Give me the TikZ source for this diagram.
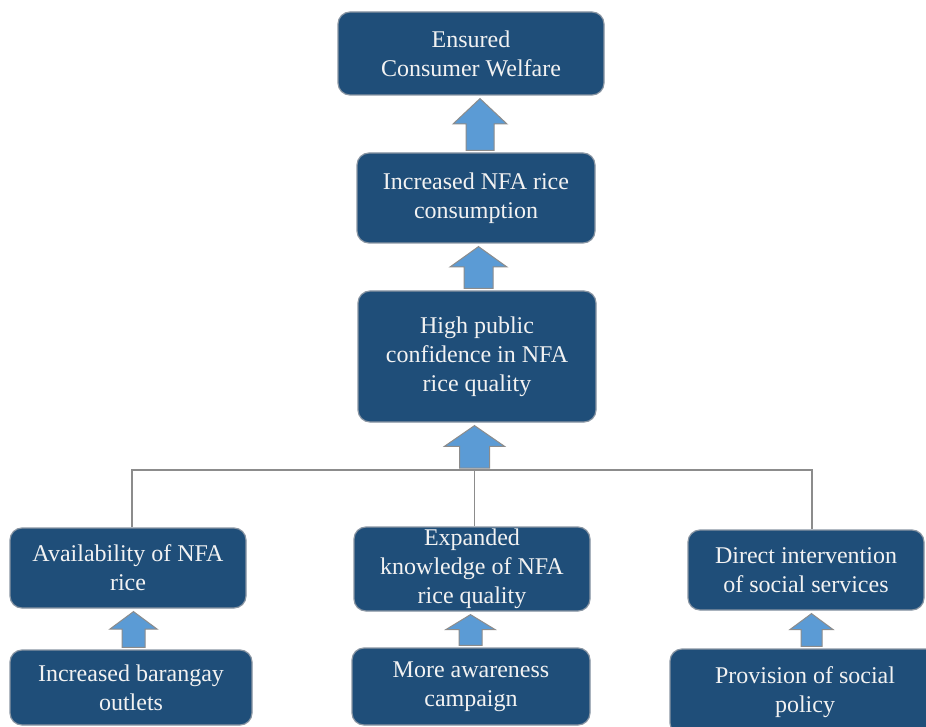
\documentclass[tikz,border=0pt]{standalone}
\usepackage{fontspec}
\setmainfont{Liberation Serif}
\usepackage{tikz}
\usetikzlibrary{positioning}
\usetikzlibrary{calc}

\definecolor{boxblue}{HTML}{1F4E79}
\definecolor{boxedge}{HTML}{8A96A3}
\definecolor{arrowblue}{HTML}{5B9BD5}
\definecolor{linegray}{HTML}{8C8C8C}

% block arrow pointing up: lower anchor, upper anchor, x, head half width, shaft half width
\newcommand{\blockup}[5]{%
	\draw[blockarr] let \p1=(#1), \p2=(#2), \p3=($(\p1)!.5!(\p2)$) in
		(#3pt,\y2-3pt) -- (#3pt-#4pt,\y3) -- (#3pt-#5pt,\y3) -- (#3pt-#5pt,\y1+2pt)
		-- (#3pt+#5pt,\y1+2pt) -- (#3pt+#5pt,\y3) -- (#3pt+#4pt,\y3) -- cycle;}

\begin{document}
\begin{tikzpicture}[x=1pt,y=-1pt,
	box/.style={fill=boxblue,draw=boxedge,line width=1.2pt,rounded corners=12pt,rectangle,align=center,
		text=white!95!black,inner sep=0pt,font=\fontsize{24}{29}\selectfont},
	blockarr/.style={fill=arrowblue,draw=linegray,line width=1pt},
	link/.style={draw=linegray,line width=1.5pt}]
		\clip (0,0) rectangle (926,727);
		\fill[white] (0,0) rectangle (926,727);
		\node[box,minimum width=266pt,minimum height=83pt] at (471,53.5) (b1) {Ensured\\Consumer Welfare};
		\node[box,minimum width=238pt,minimum height=90pt] at (476,198) (b2) {Increased NFA rice\\consumption};
		\node[box,minimum width=238pt,minimum height=131pt] at (477,356.5) (b3) {High public\\confidence in NFA\\rice quality};
		\node[box,minimum width=236pt,minimum height=80pt] at (128,568) (b4) {Availability of NFA\\rice};
		\node[box,minimum width=236pt,minimum height=84pt] at (472,569) (b5) {Expanded\\knowledge of NFA\\rice quality};
		\node[box,minimum width=236pt,minimum height=80pt] at (806,570) (b6) {Direct intervention\\of social services};
		\node[box,minimum width=242pt,minimum height=75pt] at (131,687.5) (b7) {Increased barangay\\outlets};
		\node[box,minimum width=238pt,minimum height=77pt] at (471,686.5) (b8) {More awareness\\campaign};
		\node[box,minimum width=270pt,minimum height=86pt] at (805,692) (b9) {Provision of social\\policy};
		\coordinate (bar) at (474.5,470);
		\draw[link] ([xshift=4pt]b4.north) |- (bar) -| ([xshift=6pt]b6.north);
		\draw[link] (bar) -- (bar |- b5.north);
		\blockup{b2.north}{b1.south}{480}{27}{14}
		\blockup{b3.north}{b2.south}{478.5}{28.5}{14.5}
		\blockup{bar}{b3.south}{474.5}{30}{15}
		\blockup{b7.north}{b4.south}{133.5}{23.5}{11.5}
		\blockup{b8.north}{b5.south}{470.5}{24.5}{11.5}
		\blockup{b9.north}{b6.south}{811.5}{21.5}{10.5}
	\end{tikzpicture}
\end{document}
